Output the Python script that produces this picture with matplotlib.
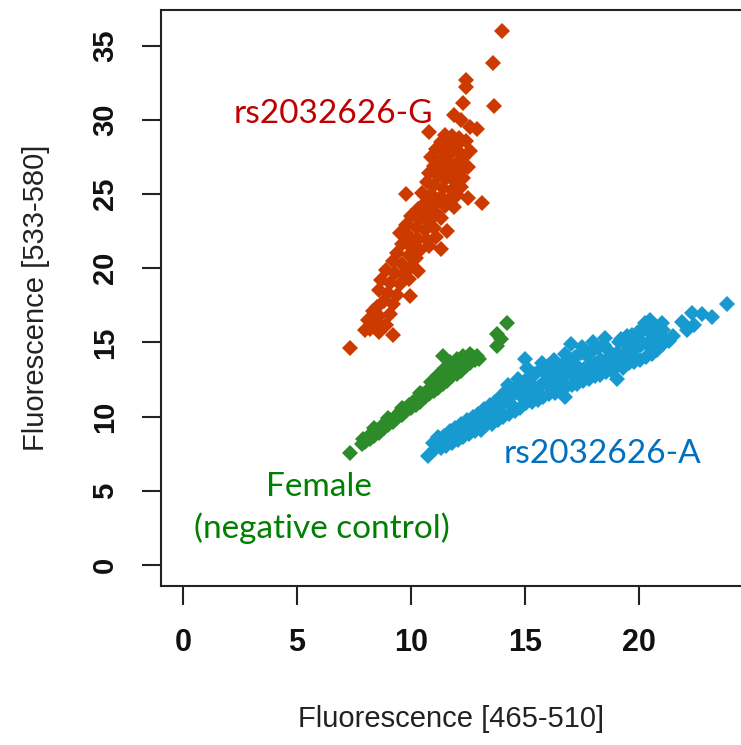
import matplotlib
matplotlib.use("Agg")
import matplotlib.pyplot as plt

# rs2032626-G cluster (red)
red_points = [
    (14.0, 36.0), (13.6, 33.8), (12.4, 32.7), (12.4, 32.2), (13.65, 30.9),
    (12.3, 31.1), (11.9, 30.3), (10.8, 29.2), (12.6, 29.5), (12.9, 29.4),
    (12.2, 30.0),
    (11.5, 29.0), (11.8, 28.9), (12.1, 28.8), (11.3, 28.5), (11.6, 28.4),
    (12.0, 28.3), (12.4, 28.6), (11.1, 28.0), (11.4, 27.9), (11.8, 27.8),
    (12.2, 27.7), (12.6, 27.9), (10.9, 27.5), (11.3, 27.3), (11.6, 27.2),
    (12.0, 27.1), (12.3, 27.4), (11.0, 26.9), (11.4, 26.7), (11.7, 26.6),
    (12.1, 26.5), (12.5, 26.8), (10.8, 26.4),
    (11.2, 26.2), (11.5, 26.0), (11.9, 25.9), (12.3, 26.1), (10.7, 25.8),
    (11.0, 25.6), (11.4, 25.4), (11.8, 25.3), (12.2, 25.5), (10.5, 25.1),
    (10.9, 25.0), (11.3, 24.8), (11.7, 24.7), (12.0, 24.9), (10.6, 24.4),
    (11.0, 24.3), (11.5, 24.2), (9.8, 25.0), (12.5, 24.7), (13.1, 24.4),
    (11.9, 24.1),
    (10.3, 24.0), (10.7, 23.8), (11.1, 23.7), (10.0, 23.5), (10.4, 23.3),
    (10.8, 23.2), (11.3, 23.4), (9.8, 22.9), (10.2, 22.8), (10.6, 22.6),
    (11.0, 22.7), (11.6, 22.5), (9.5, 22.4), (9.9, 22.2), (10.3, 22.0),
    (10.7, 21.9), (11.3, 21.3), (9.6, 21.6), (10.0, 21.4), (10.4, 21.2),
    (10.8, 21.5), (11.1, 22.1), (9.4, 21.0), (9.9, 20.9),
    (10.2, 20.7), (9.2, 20.5), (9.6, 20.3), (10.0, 20.1), (8.9, 19.9),
    (9.3, 19.7), (9.7, 19.6), (10.3, 19.8), (8.7, 19.2), (9.1, 19.0),
    (9.5, 18.9), (9.9, 19.3), (8.6, 18.5), (9.0, 18.3), (9.4, 18.2),
    (8.8, 17.8), (9.2, 17.6), (9.96, 18.1), (8.5, 17.4),
    (8.35, 17.1), (9.08, 16.9), (8.6, 16.8), (8.1, 16.5), (8.5, 16.3),
    (8.9, 16.2), (8.2, 15.9), (8.6, 15.7), (7.98, 15.8), (9.2, 15.5),
    (7.32, 14.65),
]

# Female negative control (green)
green_points = [
    (7.32, 7.57), (7.84, 8.14), (7.9, 8.5), (8.0, 8.3), (8.1, 8.6), (8.2, 8.5),
    (8.3, 8.9), (8.4, 8.7), (8.5, 9.1), (8.6, 8.9), (8.7, 9.3), (8.8, 9.2),
    (8.9, 9.6), (9.0, 9.4), (9.1, 9.8), (9.2, 9.6), (9.3, 10.0), (9.4, 9.9),
    (9.5, 10.3), (9.6, 10.1), (9.7, 10.5), (9.8, 10.4), (9.9, 10.8),
    (10.0, 10.6), (10.1, 11.0), (10.2, 10.8), (10.3, 11.2), (10.4, 11.0),
    (10.5, 11.5), (10.6, 11.3), (10.7, 11.7), (10.8, 11.5), (10.9, 11.9),
    (11.0, 11.7), (11.1, 12.1), (11.2, 11.9), (11.3, 12.4), (11.4, 12.2),
    (11.5, 12.7), (11.6, 12.4), (11.7, 12.9), (11.8, 12.7), (11.9, 13.2),
    (12.0, 12.9), (12.1, 13.4), (12.2, 13.1), (12.3, 13.6), (12.4, 13.4),
    (12.5, 13.8), (12.6, 13.6), (12.7, 14.0), (12.8, 13.8), (12.9, 14.1),
    (13.0, 13.9), (11.42, 14.09), (11.7, 13.7), (12.0, 13.9), (12.3, 14.1),
    (11.5, 13.3), (11.9, 13.5), (12.6, 14.2), (10.9, 12.3), (10.4, 11.6),
    (9.6, 10.6), (9.0, 9.9), (8.4, 9.2), (11.2, 12.8), (12.2, 13.8),
    (13.76, 14.77), (13.76, 15.56), (14.2, 16.3), (13.95, 15.2),
]

# rs2032626-A cluster (blue)
blue_points = [
    (10.76, 7.35),
    (11.05, 7.8), (10.95, 8.2), (11.2, 8.6),
    (11.3, 7.9), (11.35, 8.4), (11.15, 8.1),
    (11.55, 8.0), (11.45, 8.7), (11.6, 8.3),
    (11.8, 8.2), (11.7, 9.0), (11.85, 8.6),
    (12.05, 8.4), (11.95, 9.2), (12.1, 8.8),
    (12.3, 8.6), (12.2, 9.5), (12.35, 9.0),
    (12.55, 8.8), (12.45, 9.8), (12.6, 9.3),
    (12.8, 9.0), (12.7, 10.0), (12.85, 9.5),
    (13.05, 9.1), (12.95, 10.2), (13.1, 9.7),
    (13.3, 9.4), (13.2, 10.5), (13.35, 9.9),
    (13.55, 9.5), (13.45, 10.8), (13.6, 10.2),
    (13.8, 9.8), (13.7, 11.0), (13.85, 10.4), (13.9, 11.3),
    (14.05, 10.0), (13.95, 10.7), (14.1, 11.5),
    (14.3, 10.2), (14.2, 11.8), (14.35, 10.9), (14.25, 12.1),
    (14.55, 10.4), (14.45, 11.4), (14.6, 12.0),
    (14.8, 10.6), (14.7, 12.5), (14.85, 11.3), (14.75, 11.9),
    (15.05, 10.9), (14.95, 12.3), (15.1, 11.6), (15.0, 13.9), (15.1, 13.3),
    (15.3, 11.0), (15.2, 12.7), (15.35, 11.8), (15.25, 12.2),
    (15.55, 11.1), (15.45, 12.9), (15.6, 12.0), (15.5, 11.5),
    (15.8, 11.3), (15.7, 13.2), (15.85, 12.3), (15.75, 13.6),
    (16.05, 11.5), (15.95, 12.8), (16.1, 12.0), (16.0, 13.4),
    (16.3, 11.6), (16.2, 13.0), (16.35, 12.4), (16.25, 13.8),
    (16.55, 11.8), (16.45, 13.3), (16.6, 12.6), (16.5, 12.1),
    (16.75, 11.3), (16.8, 12.0), (16.7, 13.6), (16.85, 12.9), (16.75, 14.2),
    (17.05, 12.1), (16.95, 13.9), (17.1, 12.7), (17.0, 14.9), (17.0, 13.3),
    (17.3, 12.2), (17.2, 14.0), (17.35, 13.0), (17.25, 13.5),
    (17.55, 12.4), (17.45, 14.3), (17.6, 13.2), (17.5, 14.7),
    (17.8, 12.5), (17.7, 14.1), (17.85, 13.4), (17.75, 12.9),
    (18.05, 12.7), (17.95, 14.4), (18.1, 13.6), (18.0, 15.0),
    (18.3, 12.8), (18.2, 14.6), (18.35, 13.8), (18.25, 13.2),
    (18.55, 13.0), (18.45, 14.8), (18.6, 13.9), (18.5, 15.3),
    (18.8, 13.1), (18.7, 14.4), (18.85, 14.0), (18.75, 13.5),
    (19.05, 12.5), (18.95, 13.4), (19.1, 15.0), (19.0, 14.2),
    (19.3, 13.3), (19.2, 15.2), (19.35, 14.3), (19.25, 13.8),
    (19.55, 13.6), (19.45, 15.4), (19.6, 14.5), (19.5, 14.9),
    (19.8, 13.7), (19.7, 15.5), (19.85, 14.6), (19.75, 14.1),
    (20.05, 13.8), (19.95, 15.7), (20.1, 14.8), (20.0, 15.2),
    (20.3, 14.0), (20.2, 15.9), (20.35, 14.9), (20.25, 16.3),
    (20.55, 14.2), (20.45, 16.0), (20.6, 15.1), (20.5, 16.5), (20.5, 15.6),
    (20.8, 14.5), (20.7, 16.1), (20.85, 15.3),
    (21.0, 14.8), (21.05, 15.8), (20.95, 15.4), (21.0, 16.3),
    (21.3, 15.1), (22.1, 15.8), (22.3, 17.0), (22.75, 16.9), (23.2, 16.7),
    (23.85, 17.6), (21.9, 16.4), (22.4, 16.2), (21.5, 15.4),
]

x_ticks = [0, 5, 10, 15, 20]
y_ticks = [0, 5, 10, 15, 20, 25, 30, 35]

clusters = [
    (red_points, "#CC3A00"),
    (green_points, "#2E8B2A"),
    (blue_points, "#179AD0"),
]

fig = plt.figure(figsize=(7.41, 7.45), dpi=100)
ax = fig.add_axes([161 / 741, 1 - 586 / 745, 1 - 161 / 741, (586 - 10) / 745])

for pts, col in clusters:
    xs = [p[0] for p in pts]
    ys = [p[1] for p in pts]
    ax.plot(xs, ys, linestyle="none", marker="D", markersize=8,
            markeredgewidth=0, color=col)

ax.set_xlim(-0.96, 24.47)
ax.set_ylim(-1.42, 37.4)
ax.set_xticks(x_ticks)
ax.set_yticks(y_ticks)
ax.spines["right"].set_visible(False)
for s in ["left", "top", "bottom"]:
    ax.spines[s].set_linewidth(1.5)
    ax.spines[s].set_color("#222222")

ax.tick_params(direction="out", length=14, width=1.5, color="#222222", pad=16)
for lab in ax.get_xticklabels():
    lab.set_fontfamily("Liberation Sans")
    lab.set_fontsize(22)
    lab.set_fontweight("bold")
    lab.set_color("#111111")
for lab in ax.get_yticklabels():
    lab.set_fontfamily("Liberation Sans")
    lab.set_fontsize(21)
    lab.set_fontweight("bold")
    lab.set_rotation(90)
    lab.set_verticalalignment("center")
    lab.set_color("#111111")

ax.set_xlabel("Fluorescence [465-510]", family="Liberation Sans",
              fontsize=21, color="#222222", labelpad=34)
ax.set_ylabel("Fluorescence [533-580]", family="Liberation Sans",
              fontsize=21, color="#222222", labelpad=30)

ax.text(6.58, 29.8, "rs2032626-G", family="Lato", fontsize=24,
        color="#C00000", ha="center", va="baseline")
ax.text(18.4, 6.88, "rs2032626-A", family="Lato", fontsize=24,
        color="#0070C0", ha="center", va="baseline")
ax.text(5.95, 4.65, "Female", family="Lato", fontsize=24,
        color="#008000", ha="center", va="baseline")
ax.text(6.1, 1.83, "(negative control)", family="Lato", fontsize=24,
        color="#008000", ha="center", va="baseline")

fig.savefig("out.png", dpi=100)
